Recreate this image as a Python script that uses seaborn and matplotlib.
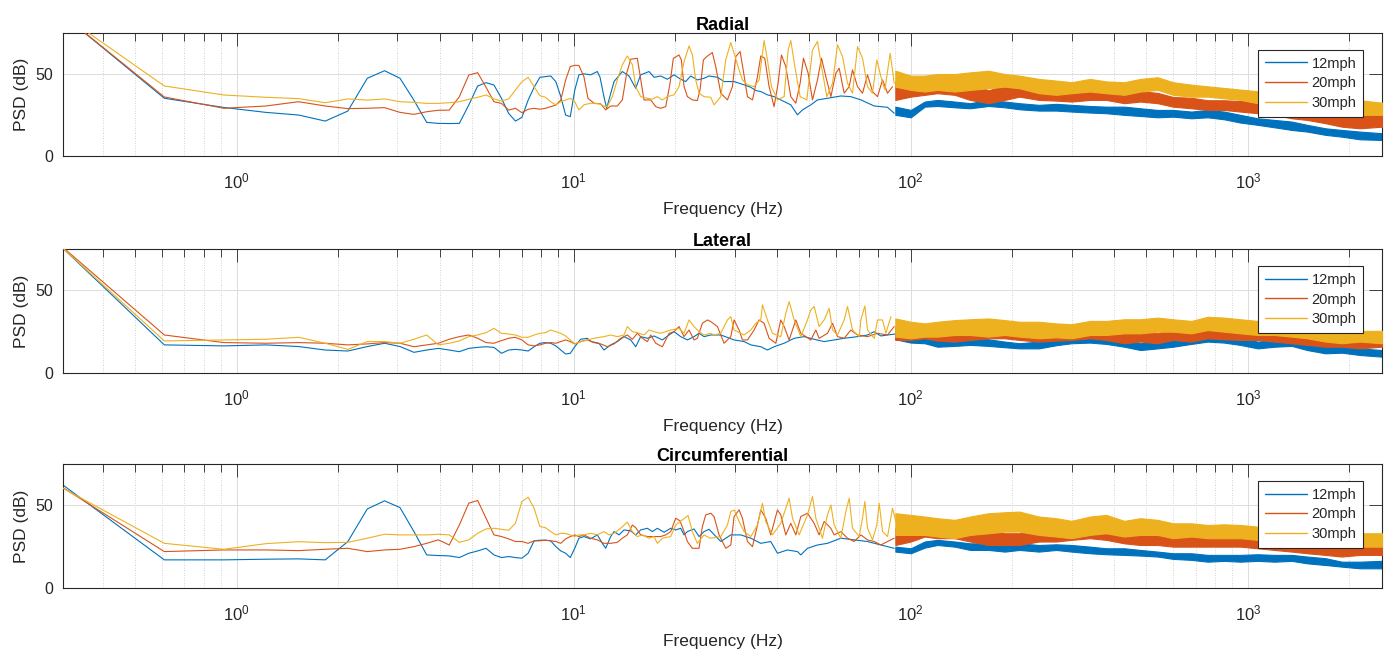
import matplotlib
matplotlib.use("Agg")
import matplotlib.pyplot as plt
import seaborn as sns
import pandas as pd
from matplotlib.ticker import FixedLocator, LogLocator, NullFormatter, FuncFormatter

# ---------------- data ----------------
SPEEDS = ["12mph", "20mph", "30mph"]
TITLES = ["Radial", "Lateral", "Circumferential"]

# lowest FFT bins (Hz), shared by every series
F_BINS = [0.305, 0.610, 0.916, 1.221, 1.526, 1.831, 2.136, 2.441, 2.747, 3.052, 3.357,
          3.662, 3.967, 4.272, 4.578, 4.883, 5.188, 5.493, 5.798, 6.104, 6.409, 6.714,
          7.019, 7.324, 7.629, 7.935, 8.240, 8.545, 8.850, 9.155, 9.460, 9.766, 10.071]

# ---- Radial ----
RAD_12_LOW = [86, 35.2, 29.6, 26.6, 25.0, 21.3, 27.4, 47.4, 52.0, 47.4, 34.0, 20.5, 19.9, 19.8, 19.9,
              31.1, 42.7, 44.7, 43.3, 35.2, 26.0, 21.3, 23.6, 34.1, 41.9, 48.0, 48.4, 48.8, 45.3,
              36.2, 25.0, 24.0, 40.2]
RAD_20_LOW = [86, 36.0, 29.1, 30.5, 33.1, 30.5, 28.9, 29.1, 29.5, 26.6, 25.4, 27.0, 27.9, 28.0, 36.2,
              49.4, 50.8, 41.9, 33.1, 32.1, 28.0, 29.1, 26.4, 28.5, 29.1, 28.5, 29.1, 30.1, 31.1,
              34.1, 46.3, 54.5, 55.3]
RAD_30_LOW = [86, 42.7, 37.2, 35.8, 35.0, 32.5, 34.8, 34.1, 34.8, 33.1, 32.7, 32.1, 32.1, 32.5, 33.1,
              34.6, 35.8, 37.2, 34.8, 33.5, 34.8, 40.2, 45.3, 48.0, 42.3, 36.8, 35.8, 33.1, 31.1,
              33.1, 34.1, 35.2, 33.1]

RAD_12_MID_F = [10.36, 10.72, 11.22, 11.75, 11.97, 12.29, 12.52, 13.17, 13.94, 14.59, 15.27, 15.80,
                16.73, 17.31, 18.11, 18.96, 19.84, 20.77, 21.49, 22.24, 23.27, 24.36, 25.20, 26.69,
                27.93, 29.91, 32.03, 33.52, 34.69, 35.89, 37.56, 39.31, 41.14, 44.06, 46.11, 47.71,
                50.51, 52.87, 56.61, 62.01, 66.41, 71.12, 77.89, 85.32, 89.30]
RAD_12_MID_DB = [49.5, 50.1, 49.5, 51.5, 48.0, 36.2, 29.1, 45.4, 51.5, 48.8, 41.3, 49.5, 51.5, 48.0,
                 48.8, 46.8, 49.5, 46.8, 45.4, 48.8, 46.4, 47.4, 48.8, 48.0, 45.4, 45.4, 43.4, 41.9,
                 39.9, 39.3, 37.3, 36.2, 34.2, 31.2, 25.1, 28.1, 31.2, 34.2, 35.2, 36.6, 36.2, 34.2,
                 30.5, 29.7, 26.1]
RAD_20_MID_F = [10.36, 10.72, 11.02, 11.48, 12.02, 12.44, 12.87, 13.47, 13.94, 14.36, 14.76, 15.44,
                15.87, 16.16, 16.92, 17.51, 18.11, 18.75, 19.31, 19.75, 20.53, 20.86, 21.25, 21.74,
                22.49, 23.27, 23.70, 24.25, 24.81,
                25.78, 26.38, 27.31, 28.58, 29.57, 30.25, 31.17, 31.88, 32.77, 33.91, 35.09, 35.89,
                36.88, 37.99, 39.31, 40.40, 41.33, 42.58, 44.06, 45.60, 46.96, 48.04, 49.60, 51.10,
                52.87, 54.35, 55.98, 57.93, 59.94, 61.32, 63.45, 65.66, 67.17, 69.50, 71.92, 74.41,
                77.00, 79.67, 82.47, 85.32, 88.30]
RAD_20_MID_DB = [55.2, 48.4, 35.2, 32.2, 31.8, 28.1, 30.5, 30.5, 34.2, 50.5, 59.0, 59.6, 44.4, 34.2,
                 34.2, 30.1, 29.1, 30.1, 44.4, 59.6, 61.6, 58.6, 42.3, 36.2, 34.2, 33.8, 40.3, 58.6,
                 60.6,
                 63.1, 54.5, 38.3, 34.2, 42.3, 60.6, 63.7, 51.5, 36.2, 34.2, 48.4, 61.0, 59.6, 42.3,
                 30.1, 44.4, 61.6, 54.5, 36.2, 32.2, 44.4, 59.6, 50.5, 34.2, 46.4, 59.6, 48.4, 36.2,
                 50.5, 53.5, 38.3, 42.3, 52.5, 42.3, 38.3, 49.5, 39.3, 36.2, 46.4, 38.3, 42.3]
RAD_30_MID_F = [10.36, 10.72, 11.22, 11.88, 12.29, 12.58, 13.02, 13.47, 13.94, 14.42, 14.93, 15.27,
                15.80, 16.54, 17.11, 17.71, 18.32, 18.96, 19.84, 20.53, 21.25, 21.99, 22.49, 23.01,
                23.54, 24.36, 25.50,
                26.08, 27.31, 28.25, 29.24, 29.91, 30.73, 31.66, 32.77, 34.29, 35.48, 36.71, 37.56,
                38.60, 40.22, 42.10, 43.27, 44.06, 45.29, 46.96, 49.15, 51.10, 52.87, 54.35, 56.35,
                58.60, 60.63, 62.73, 64.91, 67.17, 69.50, 71.92, 74.41, 77.00, 79.31, 81.53, 83.78,
                86.89, 89.30]
RAD_30_MID_DB = [28.1, 31.2, 32.2, 31.8, 30.5, 30.1, 36.2, 46.4, 55.6, 61.0, 55.6, 42.3, 36.2, 35.2,
                 34.6, 36.2, 34.2, 36.2, 37.3, 42.3, 57.6, 67.1, 61.7, 46.4, 38.3, 36.2, 35.8,
                 31.2, 36.2, 58.6, 69.2, 62.7, 54.5, 46.4, 43.4, 42.3, 46.4, 70.4, 58.6, 42.3, 34.2,
                 36.2, 64.7, 70.4, 54.5, 36.2, 34.2, 64.7, 69.8, 54.5, 36.2, 44.4, 67.8, 60.6, 44.4,
                 38.3, 66.7, 59.6, 42.3, 38.3, 58.6, 48.4, 40.3, 62.7, 44.4]

# dense high-frequency part: lower / upper edge of each band
BAND_F = [90, 100, 110, 120, 135, 150, 170, 190, 210, 240, 270, 300, 340, 380, 430, 480, 540,
          600, 680, 760, 850, 950, 1070, 1200, 1350, 1500, 1700, 1900, 2150, 2500]

RAD_12_BAND_HI = [30.1, 28.1, 33.2, 34.2, 33.2, 32.2, 34.2, 33.2, 32.2, 31.2, 31.8, 31.2, 30.5, 30.1,
                  30.1, 29.1, 28.1, 28.1, 27.1, 28.1, 27.1, 25.1, 23.0, 22.0, 21.0, 19.0, 16.9, 15.9,
                  14.9, 13.9]
RAD_12_BAND_LO = [25.1, 23.6, 30.1, 30.5, 29.7, 29.1, 30.5, 29.7, 28.5, 27.7, 27.7, 27.1, 26.5, 26.1,
                  25.1, 24.4, 23.6, 24.0, 23.0, 23.6, 22.4, 20.4, 19.0, 17.5, 15.9, 14.9, 12.9, 11.8,
                  10.2, 9.8]
RAD_20_BAND_HI = [45.0, 45.0, 46.0, 46.0, 46.0, 45.0, 40.0, 43.0, 43.0, 41.0, 41.5, 39.5, 41.0, 40.0,
                  37.5, 39.5, 38.5, 36.0, 35.5, 34.0, 34.0, 33.5, 33.5, 32.5, 31.5, 30.0, 29.5, 29.5,
                  28.0, 29.5]
RAD_20_BAND_LO = [34.2, 36.2, 37.3, 38.3, 37.3, 34.2, 32.2, 34.2, 36.2, 34.2, 33.8, 33.2, 34.2, 34.2,
                  32.2, 33.2, 32.2, 30.1, 29.1, 28.1, 28.1, 27.1, 26.1, 25.1, 23.0, 22.0, 20.0, 17.9,
                  16.9, 17.9]
RAD_30_BAND_HI = [52.0, 49.0, 49.0, 50.0, 50.0, 51.0, 52.0, 50.0, 49.0, 47.0, 46.0, 45.0, 47.0, 45.5,
                  45.0, 47.0, 48.0, 45.0, 43.5, 42.5, 41.5, 40.5, 39.5, 38.0, 37.0, 36.0, 34.5, 33.5,
                  34.0, 32.5]
RAD_30_BAND_LO = [42.3, 40.3, 39.3, 40.3, 39.3, 40.3, 41.3, 42.3, 41.3, 38.3, 37.3, 38.3, 39.3, 38.3,
                  37.3, 39.3, 40.3, 37.3, 36.2, 36.2, 35.2, 34.2, 32.2, 30.1, 29.1, 28.1, 27.1, 26.1,
                  25.1, 25.1]

# ---- Lateral ----
LAT_12_LOW = [75.5, 17.0, 16.4, 17.0, 16.0, 13.9, 13.3, 16.0, 18.0, 16.0, 12.5, 13.9, 14.9, 13.9,
              12.9, 14.9, 15.5, 15.9, 15.5, 11.9, 13.9, 14.3, 13.9, 13.3, 15.9, 18.0, 18.4, 18.0,
              16.4, 13.9, 11.5, 11.9, 15.9]
LAT_20_LOW = [76.0, 23.0, 18.4, 18.0, 18.4, 18.0, 17.0, 17.6, 18.4, 18.0, 15.9, 17.0, 18.0, 20.4,
              22.0, 23.0, 21.0, 18.4, 18.0, 19.6, 21.0, 21.6, 20.0, 17.0, 16.4, 17.0, 18.0, 18.4,
              18.0, 19.0, 20.0, 19.0, 17.6]
LAT_30_LOW = [75.5, 19.4, 20.0, 20.4, 21.6, 18.0, 14.3, 19.0, 19.0, 18.0, 20.4, 23.0, 17.0, 18.0,
              19.4, 22.0, 23.0, 24.4, 27.0, 24.0, 23.6, 23.0, 21.6, 21.6, 23.0, 24.0, 24.4, 26.0,
              25.0, 24.0, 22.4, 20.0, 17.6]

LAT_12_MID_F = [10.48, 10.97, 11.28, 11.88, 12.29, 12.87, 13.47, 14.10, 14.76, 15.27, 15.80, 16.54,
                17.31, 18.32, 19.18, 19.84, 20.77, 21.74, 22.75, 23.54, 24.36, 25.50,
                27.31, 29.91, 32.03, 33.52, 35.89, 37.56, 39.31, 42.10, 45.08, 48.27, 51.68, 55.34,
                59.25, 63.45, 69.50, 74.41, 77.89, 81.53, 85.32, 93.45]
LAT_12_MID_DB = [20.4, 21.0, 19.0, 18.0, 13.9, 17.0, 19.0, 22.0, 20.0, 15.9, 22.0, 21.0, 22.4, 20.0,
                 23.0, 25.0, 22.0, 20.0, 22.0, 24.0, 22.0, 23.0,
                 23.0, 20.0, 19.0, 17.0, 15.9, 13.9, 15.9, 18.0, 21.0, 22.0, 20.4, 19.0, 20.0, 21.0,
                 22.0, 23.0, 25.0, 22.4, 23.0, 24.0]
LAT_20_MID_F = [10.48, 10.97, 11.48, 12.02, 12.58, 13.17, 13.78, 14.42, 14.93, 15.44, 15.98, 16.54,
                16.92, 17.51, 18.32, 19.18, 19.84, 20.53, 21.25, 21.99, 22.75, 23.27, 24.08, 24.92,
                25.50,
                26.69, 27.93, 29.24, 29.91, 30.95, 31.66, 32.77, 34.29, 35.48, 36.71, 37.99, 39.77,
                41.14, 42.10, 43.56, 45.60, 47.18, 50.51, 52.27, 53.47, 56.61, 58.60, 60.63, 63.45,
                66.41, 69.50, 74.41, 79.67, 85.32, 89.30]
LAT_20_MID_DB = [19.0, 20.0, 18.4, 17.6, 15.9, 17.6, 21.0, 23.0, 20.4, 24.0, 21.0, 19.0, 23.0, 18.0,
                 15.9, 24.0, 25.0, 28.1, 22.0, 26.0, 20.0, 21.0, 30.1, 32.1, 31.1,
                 28.1, 18.0, 22.0, 32.1, 26.0, 20.0, 20.0, 26.0, 32.1, 30.1, 21.0, 18.0, 32.1, 28.1,
                 20.0, 32.1, 24.0, 20.0, 26.0, 21.0, 24.0, 30.1, 22.0, 21.0, 26.0, 23.0, 22.0, 24.0,
                 23.0, 28.1]
LAT_30_MID_F = [10.48, 10.97, 11.48, 12.29, 12.87, 13.47, 14.10, 14.42, 14.93, 15.44, 16.16, 16.73,
                17.31, 18.11, 19.40, 20.53, 21.25, 21.99, 22.75, 23.54, 24.36, 25.50,
                26.08, 27.31, 28.58, 29.24, 29.91, 32.03, 33.52, 34.69, 35.89, 36.30, 37.56, 38.87,
                41.14, 42.58, 43.56, 45.08, 47.18, 49.38, 50.51, 51.68, 53.47, 55.34, 57.27, 58.60,
                60.63, 63.45, 64.91, 67.17, 70.31, 71.12, 73.07, 74.41, 77.89, 79.67, 82.47, 84.36,
                87.29]
LAT_30_MID_DB = [19.0, 20.0, 21.0, 22.0, 23.0, 22.0, 23.0, 28.1, 25.0, 24.4, 23.0, 26.0, 25.0, 24.0,
                 26.0, 27.0, 24.0, 32.1, 28.1, 25.0, 23.0, 24.0,
                 23.0, 24.0, 32.1, 34.1, 26.0, 23.0, 26.0, 30.1, 32.1, 41.2, 32.1, 24.0, 22.0, 36.1,
                 43.2, 32.1, 22.0, 32.1, 38.1, 40.2, 28.1, 32.1, 39.1, 26.0, 23.0, 32.1, 40.2, 26.0,
                 22.0, 32.1, 40.6, 26.0, 21.0, 32.1, 32.1, 24.0, 34.1]

LAT_12_BAND_HI = [24.4, 22.0, 21.0, 20.0, 19.6, 21.0, 20.4, 19.0, 18.0, 19.0, 20.4, 22.0, 23.0, 21.0,
                  20.0, 18.0, 19.0, 20.0, 21.0, 23.0, 22.0, 21.0, 19.0, 20.0, 20.0, 18.0, 15.9, 16.4,
                  14.9, 13.9]
LAT_12_BAND_LO = [20.4, 18.4, 18.0, 15.9, 16.4, 17.0, 16.4, 15.6, 14.9, 14.9, 16.8, 18.0, 18.4, 17.6,
                  15.9, 13.9, 14.9, 15.9, 17.6, 19.0, 18.4, 17.0, 14.9, 15.9, 16.4, 13.9, 11.9, 12.3,
                  10.9, 9.9]
LAT_20_BAND_HI = [28.1, 27.0, 28.5, 28.1, 26.0, 28.1, 28.5, 28.1, 27.0, 26.0, 27.0, 28.5, 28.1, 26.0,
                  24.0, 26.0, 24.0, 27.0, 26.0, 28.1, 27.0, 28.1, 26.0, 25.0, 24.0, 23.0, 23.0, 22.0,
                  22.0, 23.0]
LAT_20_BAND_LO = [20.0, 20.0, 21.0, 19.6, 19.0, 20.0, 21.0, 21.0, 20.0, 19.0, 19.6, 20.0, 21.0, 20.0,
                  18.0, 19.0, 18.0, 20.0, 19.0, 21.0, 20.4, 20.0, 20.0, 19.0, 18.0, 17.0, 15.9, 15.9,
                  14.9, 15.9]
LAT_30_BAND_HI = [33.0, 31.0, 30.0, 31.0, 32.0, 32.5, 33.0, 32.0, 31.0, 31.0, 30.0, 29.5, 31.5, 31.5,
                  32.5, 32.5, 33.5, 32.5, 31.5, 34.0, 33.5, 32.5, 31.5, 29.5, 28.5, 27.5, 25.5, 24.5,
                  25.5, 25.5]
LAT_30_BAND_LO = [22.0, 21.0, 22.0, 22.0, 23.0, 23.0, 22.0, 23.0, 22.0, 21.0, 21.6, 21.0, 23.0, 23.0,
                  24.0, 24.0, 25.0, 25.0, 24.0, 26.0, 25.0, 24.0, 23.0, 23.0, 22.0, 21.0, 19.0, 18.0,
                  19.0, 18.0]

# ---- Circumferential ----
CIR_12_LOW = [62.3, 17.0, 17.0, 17.4, 17.6, 17.0, 28.0, 47.8, 52.7, 48.6, 34.1, 20.0, 19.6, 19.4,
              18.4, 21.0, 22.4, 24.0, 20.0, 18.4, 19.0, 18.4, 18.0, 21.0, 28.5, 28.9, 28.9, 28.5,
              25.0, 22.4, 21.0, 18.4, 24.0]
CIR_20_LOW = [60.7, 22.0, 23.0, 23.0, 22.6, 23.4, 24.0, 22.0, 23.0, 23.4, 25.0, 27.0, 29.1, 26.0,
              38.1, 51.3, 52.9, 42.2, 32.1, 31.1, 29.7, 28.1, 28.1, 27.0, 28.5, 28.5, 28.9, 28.5,
              28.1, 27.0, 29.7, 31.1, 32.1]
CIR_30_LOW = [60.3, 27.0, 23.4, 26.8, 28.0, 27.4, 27.6, 30.1, 32.5, 32.1, 32.1, 32.1, 32.5, 32.1,
              27.6, 29.1, 33.1, 35.7, 36.1, 35.5, 34.9, 39.1, 52.3, 54.9, 48.2, 37.1, 36.5, 34.1,
              32.1, 33.1, 32.9, 32.1, 31.1]

CIR_12_MID_F = [10.36, 10.72, 11.22, 11.75, 12.16, 12.44, 12.87, 13.17, 13.63, 14.10, 14.76, 15.27,
                15.80, 16.54, 17.11, 17.71, 18.53, 19.40, 20.07, 20.77, 21.25, 21.74, 22.75, 23.54,
                24.36, 25.20,
                27.31, 29.24, 31.31, 33.52, 35.89, 38.42, 40.22, 43.07, 46.11, 47.18, 49.38, 52.87,
                56.61, 62.01, 67.93, 74.41, 81.53, 89.30]
CIR_12_MID_DB = [30.1, 31.1, 29.7, 32.1, 27.0, 24.0, 31.1, 34.1, 32.1, 35.1, 34.5, 32.1, 35.1, 36.1,
                 34.1, 36.1, 33.7, 36.1, 35.1, 36.1, 32.1, 34.1, 35.7, 31.1, 34.1, 35.5,
                 28.1, 32.1, 32.1, 30.1, 27.0, 28.1, 21.0, 23.0, 22.0, 20.0, 24.0, 26.0, 27.0, 30.1,
                 29.1, 28.1, 26.0, 24.0]
CIR_20_MID_F = [10.36, 10.72, 11.22, 11.75, 12.29, 12.87, 13.47, 13.94, 14.42, 14.93, 15.27, 15.80,
                16.54, 17.31, 18.11, 18.75, 19.40, 20.07, 20.67, 21.25, 21.74, 22.49, 23.54, 24.08,
                24.64, 25.50,
                26.08, 26.99, 28.25, 29.24, 29.91, 30.95, 31.66, 32.77, 33.91, 35.09, 35.89, 37.13,
                38.42, 40.22, 41.14, 42.58, 44.06, 45.60, 47.18, 49.38, 51.68, 53.47, 55.34, 57.93,
                59.25, 62.01, 64.91, 67.93, 71.12, 74.41, 77.89, 81.53, 85.32, 89.30]
CIR_20_MID_DB = [31.1, 32.1, 30.1, 29.1, 27.0, 27.0, 27.6, 30.1, 32.1, 38.1, 36.5, 32.1, 31.1, 31.1,
                 31.1, 32.1, 34.1, 42.2, 40.6, 34.1, 28.1, 24.0, 24.0, 37.1, 44.2, 45.2,
                 43.2, 32.1, 24.0, 26.0, 43.2, 47.2, 42.2, 28.1, 25.0, 38.1, 47.2, 42.2, 32.1, 47.2,
                 44.2, 32.1, 39.1, 32.1, 43.2, 45.2, 39.1, 32.1, 40.2, 36.1, 32.1, 34.1, 30.1, 28.1,
                 32.1, 29.1, 28.1, 26.0, 28.1, 30.1]
CIR_30_MID_F = [10.36, 10.72, 11.22, 11.75, 12.29, 12.72, 13.17, 13.78, 14.42, 14.93, 15.44, 15.98,
                16.73, 17.31, 17.71, 18.32, 19.40, 20.07, 21.01, 21.84, 22.49, 23.27, 24.36, 25.38,
                27.31, 28.58, 29.24, 29.91, 30.95, 32.03, 33.52, 35.09, 36.30, 37.13, 38.87, 41.14,
                43.56, 44.57, 46.64, 49.38, 51.10, 52.27, 54.70, 56.61, 57.93, 59.25, 62.01, 64.18,
                65.66, 67.17, 70.31, 71.92, 73.07, 74.41, 77.00, 79.31, 80.59, 82.47, 85.32, 88.30,
                90.33]
CIR_30_MID_DB = [32.1, 32.1, 33.1, 32.1, 34.1, 32.1, 33.1, 36.1, 39.8, 34.1, 31.1, 32.1, 30.1, 31.1,
                 27.0, 30.1, 31.1, 38.1, 41.2, 43.8, 34.1, 27.0, 32.1, 30.1,
                 31.1, 38.1, 46.2, 47.2, 40.2, 34.1, 31.1, 38.1, 51.2, 40.2, 32.1, 39.1, 54.3, 42.2,
                 32.1, 44.2, 55.3, 42.2, 30.1, 44.2, 50.2, 38.1, 30.1, 46.2, 54.3, 36.1, 31.1, 42.2,
                 52.3, 36.1, 29.1, 38.1, 51.2, 34.1, 31.1, 48.2, 40.2]

CIR_12_BAND_HI = [25.0, 24.0, 28.1, 29.1, 28.1, 27.0, 27.0, 26.0, 27.0, 26.0, 26.4, 26.0, 25.0, 24.0,
                  24.0, 23.0, 22.0, 21.0, 21.0, 20.0, 20.0, 20.0, 20.4, 20.0, 20.0, 19.0, 18.0, 15.9,
                  15.9, 16.4]
CIR_12_BAND_LO = [22.0, 21.0, 24.4, 26.0, 25.0, 23.0, 23.0, 22.0, 23.0, 22.0, 23.0, 22.0, 21.0, 20.4,
                  20.0, 19.6, 19.0, 17.6, 17.0, 15.9, 16.4, 15.9, 16.4, 15.9, 16.4, 14.9, 13.9, 12.9,
                  11.9, 11.9]
CIR_20_BAND_HI = [36.1, 38.1, 41.2, 39.1, 38.1, 37.1, 34.1, 33.1, 33.1, 35.1, 36.5, 36.1, 38.1, 35.1,
                  34.1, 33.1, 32.1, 31.1, 32.1, 31.1, 31.1, 32.1, 31.1, 30.1, 29.1, 28.1, 27.0, 26.0,
                  27.0, 28.1]
CIR_20_BAND_LO = [26.0, 28.1, 31.1, 30.1, 30.1, 28.1, 26.0, 26.0, 26.0, 28.1, 28.1, 29.1, 30.1, 29.1,
                  27.0, 26.0, 26.0, 25.0, 25.0, 25.0, 25.0, 25.0, 24.0, 23.0, 22.0, 21.0, 20.0, 19.0,
                  20.0, 20.0]
CIR_30_BAND_HI = [45.2, 44.2, 43.2, 42.2, 41.2, 43.2, 45.2, 45.8, 46.2, 43.2, 42.2, 40.6, 43.2, 44.2,
                  40.6, 42.2, 41.2, 39.1, 39.1, 38.1, 38.5, 38.1, 37.1, 36.1, 35.1, 34.1, 33.1, 32.1,
                  33.1, 33.1]
CIR_30_BAND_LO = [32.1, 32.1, 32.1, 31.1, 30.1, 32.1, 33.1, 34.1, 34.1, 32.1, 31.1, 30.1, 32.1, 33.1,
                  31.1, 32.1, 32.1, 30.1, 31.1, 30.1, 30.1, 30.1, 29.1, 28.1, 27.0, 26.0, 26.0, 25.0,
                  25.0, 25.0]

# ---------------- style ----------------
COLORS = ["#0072BD", "#D95319", "#EDB120"]
INK = "#262626"

sns.set_theme(style="white")
plt.rcParams["font.family"] = ["Liberation Sans", "DejaVu Sans"]
plt.rcParams["mathtext.fontset"] = "custom"
plt.rcParams["mathtext.rm"] = "Liberation Sans"
plt.rcParams["mathtext.it"] = "Liberation Sans:italic"
plt.rcParams["mathtext.bf"] = "Liberation Sans:bold"

PANELS = [
    (TITLES[0], [RAD_12_LOW, RAD_20_LOW, RAD_30_LOW],
     [(RAD_12_MID_F, RAD_12_MID_DB), (RAD_20_MID_F, RAD_20_MID_DB), (RAD_30_MID_F, RAD_30_MID_DB)],
     [(RAD_12_BAND_LO, RAD_12_BAND_HI), (RAD_20_BAND_LO, RAD_20_BAND_HI), (RAD_30_BAND_LO, RAD_30_BAND_HI)]),
    (TITLES[1], [LAT_12_LOW, LAT_20_LOW, LAT_30_LOW],
     [(LAT_12_MID_F, LAT_12_MID_DB), (LAT_20_MID_F, LAT_20_MID_DB), (LAT_30_MID_F, LAT_30_MID_DB)],
     [(LAT_12_BAND_LO, LAT_12_BAND_HI), (LAT_20_BAND_LO, LAT_20_BAND_HI), (LAT_30_BAND_LO, LAT_30_BAND_HI)]),
    (TITLES[2], [CIR_12_LOW, CIR_20_LOW, CIR_30_LOW],
     [(CIR_12_MID_F, CIR_12_MID_DB), (CIR_20_MID_F, CIR_20_MID_DB), (CIR_30_MID_F, CIR_30_MID_DB)],
     [(CIR_12_BAND_LO, CIR_12_BAND_HI), (CIR_20_BAND_LO, CIR_20_BAND_HI), (CIR_30_BAND_LO, CIR_30_BAND_HI)]),
]

fig = plt.figure(figsize=(13.9, 6.52), dpi=100)
fig.patch.set_facecolor("white")
positions = [(0.0453, 0.7607, 0.9489, 0.1887),
             (0.0453, 0.4279, 0.9489, 0.1902),
             (0.0453, 0.0982, 0.9489, 0.1902)]

dec_fmt = FuncFormatter(lambda v, p: r"$\mathregular{10^{%d}}$" % round(__import__("math").log10(v)))

for pos, (title, lows, mids, bands) in zip(positions, PANELS):
    ax = fig.add_axes(pos)
    ax.set_xscale("log")
    handles = []
    for i, (low, (mf, mdb), (blo, bhi)) in enumerate(zip(lows, mids, bands)):
        df = pd.DataFrame({"f": list(F_BINS) + list(mf), "db": list(low) + list(mdb)})
        sns.lineplot(data=df, x="f", y="db", ax=ax, color=COLORS[i], linewidth=0.8,
                     sort=False, estimator=None, errorbar=None, legend=False, zorder=2 + i)
        line = ax.lines[-1]
        line.set_label(SPEEDS[i])
        handles.append(line)
        ax.fill_between(BAND_F, blo, bhi, color=COLORS[i], linewidth=0.8,
                        edgecolor=COLORS[i], zorder=2 + i)

    ax.set_xlim(0.3052, 2500)
    ax.set_ylim(0, 75)
    ax.xaxis.set_major_locator(FixedLocator([1, 10, 100, 1000]))
    ax.xaxis.set_major_formatter(dec_fmt)
    ax.xaxis.set_minor_locator(LogLocator(base=10, subs=[2, 3, 4, 5, 6, 7, 8, 9], numticks=50))
    ax.xaxis.set_minor_formatter(NullFormatter())
    ax.set_yticks([0, 50])

    ax.set_axisbelow(True)
    ax.grid(which="major", color="#dcdcdc", linewidth=0.7, linestyle="-")
    ax.grid(which="minor", axis="x", color="#c4c4c4", linewidth=0.6, linestyle=(0, (1, 2)))

    ax.tick_params(which="both", direction="in", top=True, right=True, color=INK,
                   labelcolor=INK, width=0.6)
    ax.tick_params(axis="y", labelsize=11.5, pad=7)
    ax.tick_params(axis="x", labelsize=12, pad=11)
    ax.tick_params(which="major", length=9.5)
    ax.tick_params(which="minor", length=6)
    for sp in ax.spines.values():
        sp.set_color(INK)
        sp.set_linewidth(0.8)
        sp.set_visible(True)

    ax.set_title(title, fontsize=13, fontweight="bold", color="black", pad=2)
    ax.set_xlabel("Frequency (Hz)", fontsize=12.5, color=INK, labelpad=8)
    ax.set_ylabel("PSD (dB)", fontsize=12.5, color=INK, labelpad=5)

    leg = ax.legend(handles=handles, loc="upper right", bbox_to_anchor=(0.9856, 0.862),
                    borderaxespad=0, fontsize=10.5, frameon=True, fancybox=False, framealpha=1,
                    edgecolor=INK, handlelength=2.9, handletextpad=0.3, labelspacing=0.4,
                    borderpad=0.45)
    leg.get_frame().set_linewidth(0.8)
    leg.set_zorder(10)
    for lh in leg.get_lines():
        lh.set_linewidth(1.0)

fig.savefig("out.png", dpi=100, facecolor="white")
